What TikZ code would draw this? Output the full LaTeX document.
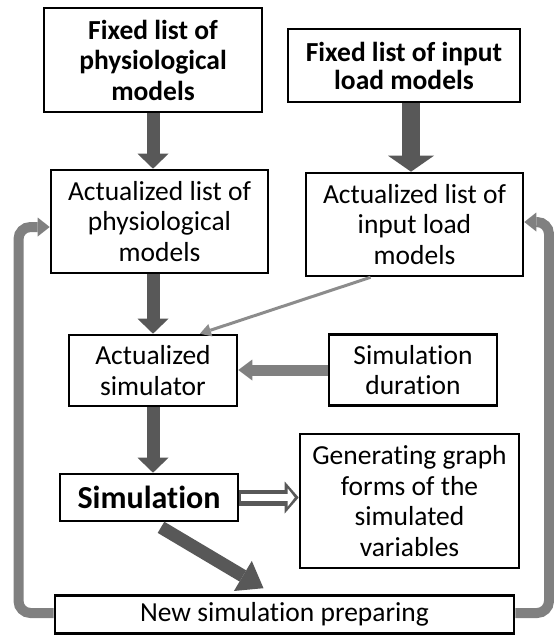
\documentclass[tikz,border=0pt]{standalone}
\usepackage{fontspec}
\setmainfont[Ligatures=NoCommon]{Carlito}
\usetikzlibrary{arrows.meta,calc}

\definecolor{arrowdark}{RGB}{88,88,88}
\definecolor{arrowlight}{RGB}{128,128,128}
\definecolor{linelight}{RGB}{140,140,140}

\begin{document}
\begin{tikzpicture}[x=1pt,y=1pt,
  box/.style={draw,line width=2.6pt,fill=white,inner sep=0pt,align=center,
    font=\fontsize{27.5}{30.5}\selectfont},
  boldbox/.style={box,font=\bfseries\fontsize{27.5}{30.5}\selectfont},
  darkarrow/.style={arrowdark,line width=13pt,
    -{Triangle[width=31pt,length=15pt,line width=0pt]}},
  widearrow/.style={arrowdark,line width=18pt,
    -{Triangle[width=46pt,length=16pt,line width=0pt]}},
  diagarrow/.style={arrowdark,line width=13pt,
    -{Triangle[width=35pt,length=24pt,line width=0pt]}},
  lightarrow/.style={arrowlight,line width=11pt,
    -{Triangle[width=21pt,length=14pt,line width=0pt]}},
  thinarrow/.style={linelight,line width=3pt,
    -{Triangle[width=13pt,length=11pt,line width=0pt]}},
  hollowout/.style={arrowdark,line width=16pt,
    -{Triangle[width=32pt,length=14pt,line width=0pt]}},
  hollowin/.style={white,line width=7pt,shorten <=2pt,shorten >=4pt,
    -{Triangle[width=18pt,length=7pt,line width=0pt]}},
  loopback/.style={arrowlight,line width=10pt,rounded corners=12pt,
    -{Triangle[width=19pt,length=12pt,line width=0pt]}}]
  \useasboundingbox (0,0) rectangle (554,-635);

  % boxes
  \node[boldbox,minimum width=218,minimum height=104] (fixphys) at (153,-60)
    {Fixed list of\\physiological\\models};
  \node[boldbox,minimum width=232,minimum height=73,
    font=\bfseries\fontsize{27.5}{28}\selectfont] (fixload) at (404,-65.5)
    {Fixed list of input\\load models};
  \node[box,minimum width=217,minimum height=103] (actphys) at (159.5,-221.5)
    {Actualized list of\\physiological\\models};
  \node[box,minimum width=217,minimum height=103] (actload) at (414.5,-224.5)
    {Actualized list of\\input load\\models};
  \node[box,minimum width=168,minimum height=71] (actsim) at (153,-370.5)
    {Actualized\\simulator};
  \node[box,minimum width=168,minimum height=71] (simdur) at (413,-370)
    {Simulation\\duration};
  \node[box,minimum width=178,minimum height=47,
    font=\bfseries\fontsize{32}{36}\selectfont] (sim) at (149,-497.5) {Simulation};
  \node[box,minimum width=219,minimum height=134] (graphs) at (409.5,-501)
    {Generating graph\\forms of the\\simulated\\variables};
  \node[box,minimum width=459,minimum height=38] (newsim) at (284.5,-614.5)
    {New simulation preparing};

  % main flow
  \draw[darkarrow] (fixphys.south) -- (fixphys.south |- actphys.north);
  \draw[widearrow] ($(fixload.south)+(7,0)$) coordinate (f2) -- (f2 |- actload.north);
  \draw[darkarrow] (actsim.north |- actphys.south) -- (actsim.north);
  \draw[darkarrow] (actsim.south) -- (actsim.south |- sim.north);
  \draw[thinarrow] ($(actload.south west)!0.3!(actload.south east)$)
    -- ($(actsim.north)!0.55!(actsim.north east)$);
  \draw[lightarrow] (simdur.west) -- (simdur.west -| actsim.east);

  % output
  \draw[hollowout] (sim.east) -- (sim.east -| graphs.west);
  \draw[hollowin] (sim.east) -- (sim.east -| graphs.west);
  \draw[diagarrow] ($(sim.south)+(12,-5)$) -- ($(newsim.north)+(-21,6)$);

  % loops back
  \coordinate (lb) at (18.5,-613);
  \coordinate (lt) at (18.5,-227);
  \coordinate (rb) at (549,-613);
  \coordinate (rt) at (549,-222);
  \draw[loopback] (newsim.west |- lb) -- (lb) -- (lt) -- (lt -| actphys.west);
  \draw[loopback] (newsim.east |- rb) -- (rb) -- (rt) -- (rt -| actload.east);
\end{tikzpicture}
\end{document}
